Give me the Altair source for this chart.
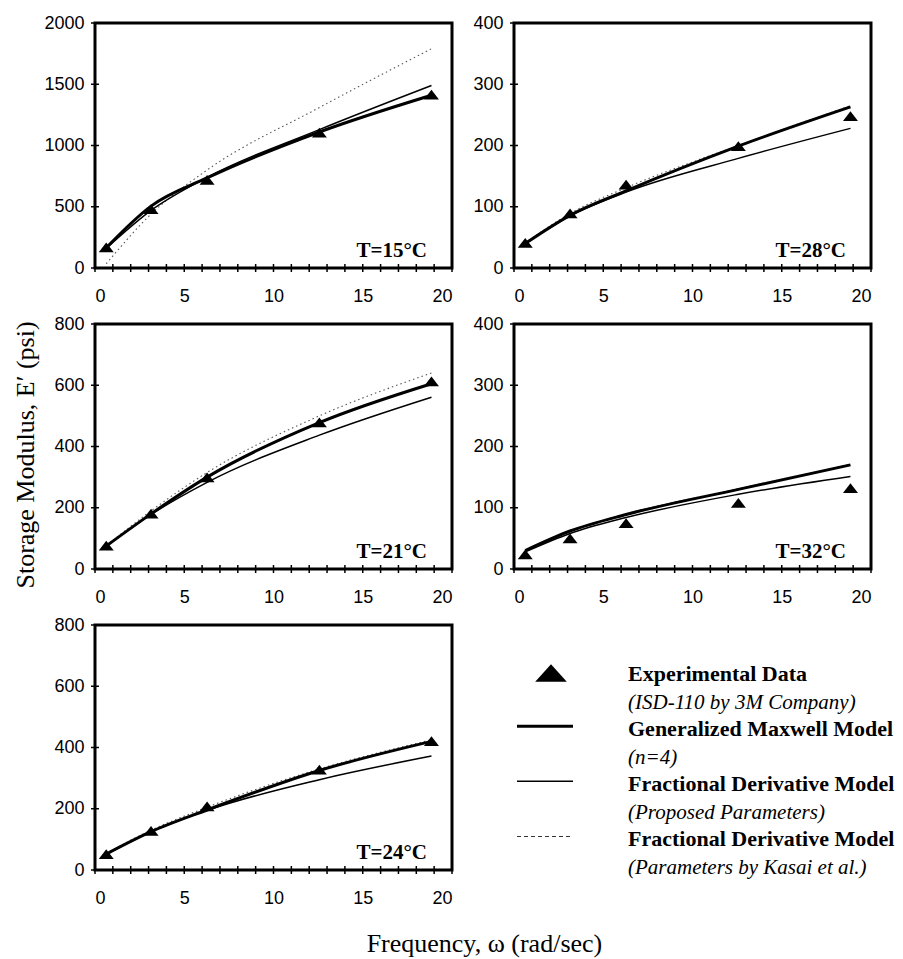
import altair as alt
import pandas as pd

# Angular frequencies of the test (0.1, 0.5, 1, 2, 3 Hz) in rad/sec
omega = [0.63, 3.14, 6.28, 12.57, 18.85]

# Panel order: row by row
temps = [15, 28, 21, 32, 24]
y_max = {15: 2000, 28: 400, 21: 800, 32: 400, 24: 800}
y_step = {15: 500, 28: 100, 21: 200, 32: 100, 24: 200}

# Storage modulus E' (psi) at each frequency
exp_data = {
    15: [168, 480, 720, 1105, 1415],
    28: [41, 89, 136, 199, 248],
    21: [76, 181, 299, 479, 613],
    32: [24, 50, 75, 108, 132],
    24: [52, 128, 208, 328, 421],
}
maxwell_fit = {
    15: [165, 505, 735, 1110, 1410],
    28: [40, 86, 126, 199, 263],
    21: [75, 180, 300, 478, 605],
    32: [30, 62, 89, 130, 170],
    24: [52, 125, 196, 325, 420],
}
frac_proposed = {
    15: [160, 470, 740, 1130, 1490],
    28: [40, 85, 124, 179, 228],
    21: [75, 178, 283, 437, 561],
    32: [28, 58, 84, 122, 151],
    24: [52, 125, 195, 295, 372],
}
frac_kasai = {
    15: [35, 440, 800, 1310, 1790],
    28: [41, 89, 131, 200, 265],
    21: [76, 190, 315, 500, 640],
    32: [30, 62, 90, 131, 171],
    24: [55, 130, 205, 330, 425],
}

legend_titles = [
    "Experimental Data",
    "Generalized Maxwell Model",
    "Fractional Derivative Model",
    "Fractional Derivative Model",
]
legend_notes = [
    "(ISD-110 by 3M Company)",
    "(n=4)",
    "(Proposed Parameters)",
    "(Parameters by Kasai et al.)",
]

W, H = 357, 245
SERIF = "Liberation Serif"
SANS = "Liberation Sans"
# flat, wide triangle used for the measured points
TRIANGLE = "M-1,0.65L0,-0.65L1,0.65Z"
TRIANGLE_LEGEND = "M-1,0.55L0,-0.55L1,0.55Z"


def panel(t, y_title=""):
    rows = []
    for name, table in [("kasai", frac_kasai), ("proposed", frac_proposed),
                        ("maxwell", maxwell_fit), ("exp", exp_data)]:
        for w, v in zip(omega, table[t]):
            rows.append({"omega": w, "E": v, "series": name})
    df = pd.DataFrame(rows)

    ymax, ystep = y_max[t], y_step[t]
    y_values = list(range(0, ymax + 1, ystep))
    xs = alt.Scale(domain=[0, 20], nice=False)
    ys = alt.Scale(domain=[0, ymax], nice=False)

    x_axis = alt.Axis(values=[0, 5, 10, 15, 20], ticks=False, domain=False,
                      labelPadding=19, title="", grid=False, format="d")
    y_kw = dict(values=y_values, ticks=False, domain=False, format="d",
                labelPadding=11, grid=False, title=y_title)
    if y_title:
        y_kw.update(titleX=-70, titleY=H / 2 + 8, titleBaseline="middle",
                    titleAlign="center", titleAngle=270)
    y_axis = alt.Axis(**y_kw)
    X = alt.X("omega:Q", scale=xs, axis=x_axis)
    Y = alt.Y("E:Q", scale=ys, axis=y_axis)

    base = alt.Chart(df).encode(x=X, y=Y)
    kasai = base.transform_filter(alt.datum.series == "kasai").mark_line(
        color="#555", strokeWidth=1.1, strokeDash=[1.5, 3], interpolate="monotone")
    proposed = base.transform_filter(alt.datum.series == "proposed").mark_line(
        color="black", strokeWidth=1.5, interpolate="monotone")
    maxwell = base.transform_filter(alt.datum.series == "maxwell").mark_line(
        color="black", strokeWidth=3, interpolate="monotone")
    pts = base.transform_filter(alt.datum.series == "exp").mark_point(
        shape=TRIANGLE, filled=True, color="black", opacity=1, size=225)

    # crossing tick marks along the bottom and left frame
    xticks = alt.Chart(pd.DataFrame({"omega": list(range(0, 21))})).mark_rule(
        strokeWidth=1.5, color="black").encode(
        x=X, y=alt.value(H - 4), y2=alt.value(H + 4))
    yticks = alt.Chart(pd.DataFrame({"E": y_values})).mark_rule(
        strokeWidth=1.5, color="black").encode(
        y=Y, x=alt.value(-4), x2=alt.value(4))

    label = alt.Chart(pd.DataFrame({"label": [f"T={t}°C"]})).mark_text(
        align="right", baseline="alphabetic", font=SERIF, fontWeight="bold",
        fontSize=21, color="black").encode(
        x=alt.value(W - 25), y=alt.value(H - 11), text="label:N")

    return alt.layer(kasai, proposed, maxwell, pts, xticks, yticks, label).properties(
        width=W, height=H)


def legend():
    n = len(legend_titles)
    titles = pd.DataFrame({"row": [2 * i for i in range(n)], "text": legend_titles})
    notes = pd.DataFrame({"row": [2 * i + 1 for i in range(n)], "text": legend_notes})
    yscale = alt.Scale(domain=[0, 2 * n - 1], range=[56, 249])
    y = alt.Y("row:Q", scale=yscale, axis=None)

    t1 = alt.Chart(titles).mark_text(
        align="left", baseline="alphabetic", font=SERIF, fontWeight="bold",
        fontSize=22, color="black").encode(x=alt.value(114), y=y, text="text:N")
    t2 = alt.Chart(notes).mark_text(
        align="left", baseline="alphabetic", font=SERIF, fontStyle="italic",
        fontSize=21, color="black").encode(x=alt.value(114), y=y, text="text:N")

    tri = alt.Chart(pd.DataFrame({"row": [0]})).mark_point(
        shape=TRIANGLE_LEGEND, filled=True, color="black", opacity=1, size=1000,
        yOffset=-8).encode(x=alt.value(37), y=y)
    thick = alt.Chart(pd.DataFrame({"row": [2]})).mark_rule(
        color="black", strokeWidth=3, yOffset=-10).encode(
        x=alt.value(3), x2=alt.value(59), y=y)
    thin = alt.Chart(pd.DataFrame({"row": [4]})).mark_rule(
        color="black", strokeWidth=1.5, yOffset=-10).encode(
        x=alt.value(3), x2=alt.value(59), y=y)
    dashed = alt.Chart(pd.DataFrame({"row": [6]})).mark_rule(
        color="#333", strokeWidth=1.1, strokeDash=[4, 3], yOffset=-10).encode(
        x=alt.value(3), x2=alt.value(59), y=y)

    return alt.layer(t1, t2, tri, thick, thin, dashed).properties(
        width=W, height=H, view=alt.ViewBackground(strokeWidth=0, stroke="transparent"))


chart = alt.concat(
    panel(15), panel(28),
    panel(21, "Storage Modulus, E\u2032 (psi)"), panel(32),
    panel(24), legend(),
    columns=2, spacing=alt.RowColnumber(row=56, column=62), bounds="flush",
).properties(
    title=alt.TitleParams(
        text="Frequency, \u03c9 (rad/sec)", orient="bottom", anchor="middle",
        font=SERIF, fontSize=26, fontWeight="normal", color="black",
        offset=22, dx=32),
    padding={"left": 10, "top": 12, "right": 0, "bottom": 5},
).configure_view(
    stroke="black", strokeWidth=3
).configure_axis(
    labelFont=SANS, labelFontSize=18, labelColor="black",
    titleFont=SERIF, titleFontSize=26, titleFontWeight="normal", titleColor="black",
)

chart.save("out.html", embed_options={"renderer": "svg", "actions": False})
